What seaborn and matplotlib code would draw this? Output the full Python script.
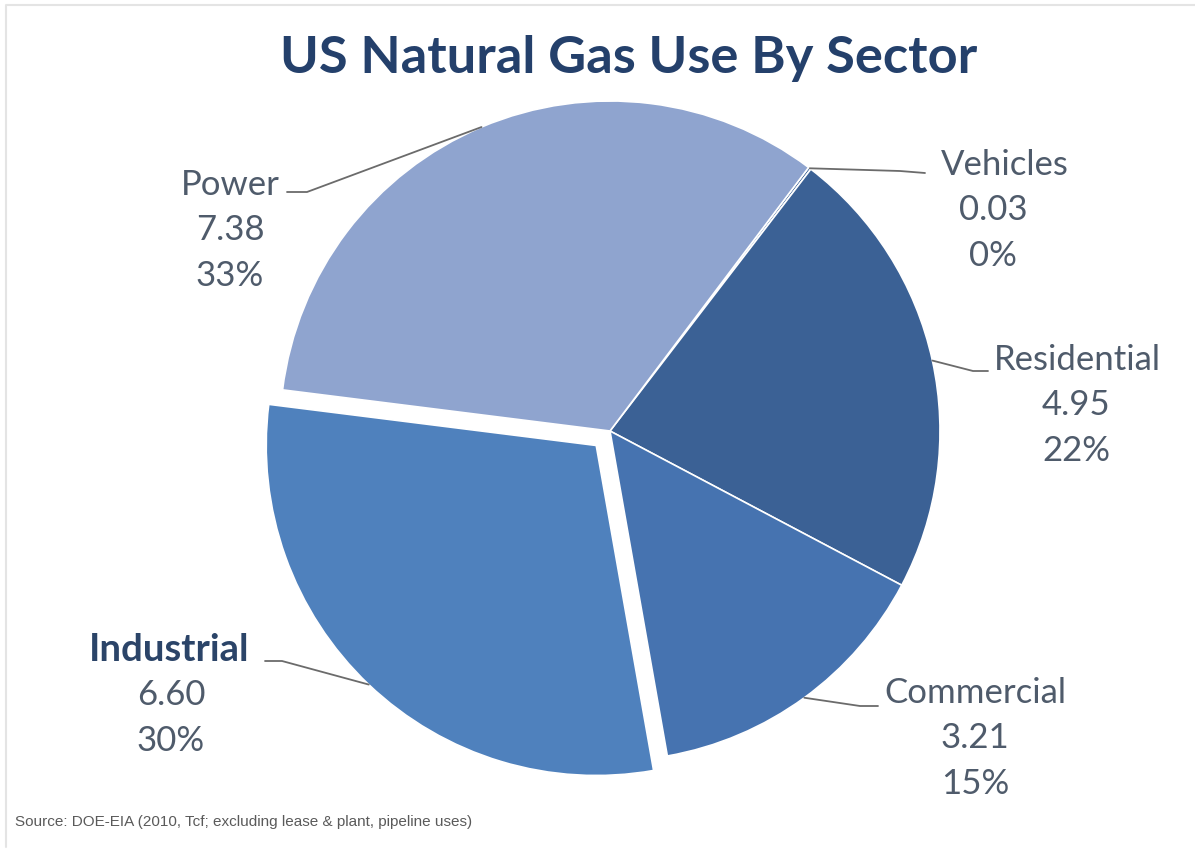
import matplotlib
matplotlib.use("Agg")
import matplotlib.pyplot as plt
import numpy as np
import seaborn as sns

# ---- data ----
sectors = ["Vehicles", "Residential", "Commercial", "Industrial", "Power"]
values = [0.03, 4.95, 3.21, 6.60, 7.38]
value_labels = ["0.03", "4.95", "3.21", "6.60", "7.38"]
pct_labels = ["0%", "22%", "15%", "30%", "33%"]
colors = ["#3B6195", "#3B6195", "#4673B0", "#4F81BD", "#8FA4CF"]
title = "US Natural Gas Use By Sector"
source = "Source: DOE-EIA (2010, Tcf; excluding lease & plant, pipeline uses)"

sns.set_theme(style="white")
plt.rcParams["font.family"] = ["Lato", "DejaVu Sans"]

W, H = 1195, 854
fig = plt.figure(figsize=(W / 100, H / 100), dpi=100)
ax = fig.add_axes([0, 0, 1, 1])
ax.set_xlim(0, W)
ax.set_ylim(0, H)
ax.axis("off")

def Y(py):
    return H - py

# faint frame
ax.plot([6, 6, W], [Y(848), Y(6), Y(6)], color="#e4e4e4", lw=1.5)

explode = [0, 0, 0, 20, 0]
wedges, _ = ax.pie(values, colors=colors, startangle=53, counterclock=False,
                   explode=explode, center=(610, Y(432)), radius=330,
                   wedgeprops=dict(edgecolor="white", linewidth=1.2),
                   frame=True)
ax.set_xlim(0, W)
ax.set_ylim(0, H)
ax.set_aspect("equal")
ax.axis("off")

# label layout (pixel positions, y from top)
name_xy = {"Power": (230, 185), "Vehicles": (1005, 165), "Residential": (1077, 360),
           "Commercial": (975, 693), "Industrial": (169, 650)}
num_x = {"Power": 230, "Vehicles": 993, "Residential": 1076, "Commercial": 975,
         "Industrial": 171}
elbows = {"Power": [(307, 193), (287, 193)],
          "Vehicles": [(900, 172), (925, 174)],
          "Residential": [(973, 372), (988, 372)],
          "Commercial": [(860, 707), (878, 707)],
          "Industrial": [(282, 662), (265, 662)]}

txt_color = "#4F5B6B"
fs = 25
for w, name, v, p in zip(wedges, sectors, value_labels, pct_labels):
    th = np.deg2rad((w.theta1 + w.theta2) / 2)
    cx, cy = w.center
    ex, ey = cx + w.r * np.cos(th), cy + w.r * np.sin(th)
    pts = [(ex, ey)] + [(x, Y(y)) for x, y in elbows[name]]
    ax.plot([q[0] for q in pts], [q[1] for q in pts], color="#6b6b6b", lw=1.3,
            solid_capstyle="round")
    nx, ny = name_xy[name]
    if name == "Industrial":
        ax.text(nx, Y(ny), name, ha="center", va="center", fontsize=27.5,
                fontweight="bold", color="#2B4468")
    else:
        ax.text(nx, Y(ny), name, ha="center", va="center", fontsize=fs,
                color=txt_color)
    ax.text(num_x[name], Y(ny + 45), v, ha="center", va="center", fontsize=fs,
            color=txt_color)
    ax.text(num_x[name], Y(ny + 91), p, ha="center", va="center", fontsize=fs,
            color=txt_color)

ax.text(629, Y(58), title, ha="center", va="center", fontsize=37.7,
        fontweight="bold", color="#24406B")
ax.text(15, Y(822), source, ha="left", va="center", fontsize=11,
        color="#5a5a5a", family=["Liberation Sans", "DejaVu Sans"])

fig.savefig("out.png", dpi=100)
